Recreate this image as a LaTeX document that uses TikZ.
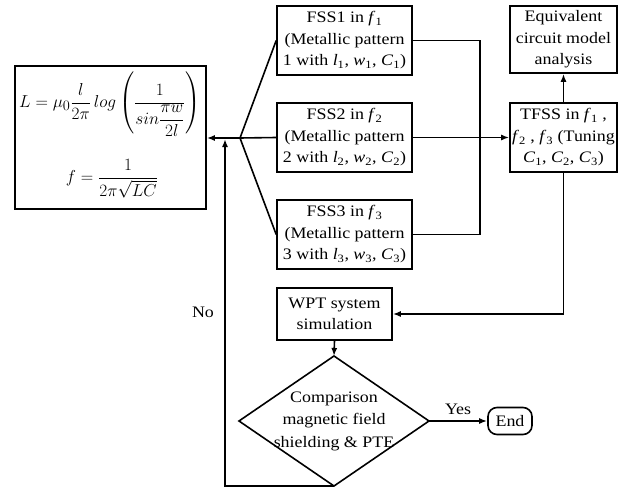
\documentclass[tikz,border=0pt]{standalone}
\usepackage{amsmath}
\usepackage{fontspec}
\setmainfont{Liberation Serif}[FakeStretch=1.12]
\usetikzlibrary{arrows.meta}
\newcommand{\vsub}[2]{\textit{#1}\textsubscript{#2}}
\tikzset{
  box/.style={draw, line width=1.6pt, inner sep=0pt, align=center,
    font=\fontsize{16}{21.5}\selectfont},
  txt/.style={inner sep=0pt, align=center, font=\fontsize{16}{22.5}\selectfont},
  conn/.style={line width=1.6pt},
  arr/.style={conn, -{Latex[length=8pt,width=6pt]}},
  lbl/.style={font=\fontsize{16}{18}\selectfont, inner sep=0pt},
  frm/.style={inner sep=0pt, font=\fontsize{19}{23}\selectfont}
}
\begin{document}
\begin{tikzpicture}[x=1pt,y=-1pt]
\useasboundingbox (0,0) rectangle (638,487);

% formula box with the inductance and resonance equations
\node[box, minimum width=191pt, minimum height=143pt] (form) at (110.5,137.5) {};
\node[frm] (eqL) at (110,104)
  {$\displaystyle L=\mu_0\frac{l}{2\pi}\,log\left(\frac{1}{sin\dfrac{\pi w}{2l}}\right)$};
\node[frm] (eqf) at (112,179)
  {$\displaystyle f=\frac{1}{2\pi\sqrt{LC}}$};

% the three FSS designs
\node[box, minimum width=135pt, minimum height=69pt] (fss1) at (344.5,40.5)
  {FSS1 in \vsub{f}{1}\\(Metallic pattern\\1 with \vsub{l}{1}, \vsub{w}{1}, \vsub{C}{1})};
\node[box, minimum width=135pt, minimum height=69pt] (fss2) at (344.5,137.5)
  {FSS2 in \vsub{f}{2}\\(Metallic pattern\\2 with \vsub{l}{2}, \vsub{w}{2}, \vsub{C}{2})};
\node[box, minimum width=135pt, minimum height=69pt] (fss3) at (344.5,234.5)
  {FSS3 in \vsub{f}{3}\\(Metallic pattern\\3 with \vsub{l}{3}, \vsub{w}{3}, \vsub{C}{3})};

% tunable FSS and circuit analysis
\node[box, minimum width=107pt, minimum height=69pt] (tfss) at (563.5,137.5)
  {TFSS in \vsub{f}{1} ,\\\vsub{f}{2} , \vsub{f}{3} (Tuning\\\vsub{C}{1}, \vsub{C}{2}, \vsub{C}{3})};
\node[box, minimum width=107pt, minimum height=67pt] (equiv) at (563.5,39.5)
  {Equivalent\\circuit model\\analysis};

% simulation
\node[box, minimum width=115pt, minimum height=52pt] (wpt) at (334.5,314)
  {WPT system\\simulation};

% decision diamond
\coordinate (dtop) at (334,356);
\coordinate (dright) at (429,421);
\coordinate (dbot) at (334,486);
\coordinate (dleft) at (239,421);
\draw[conn, line join=miter] (dtop) -- (dright) -- (dbot) -- (dleft) -- cycle;
\node[txt] (dia) at (334,421) {Comparison\\magnetic field\\shielding \& PTE};

\node[box, rounded corners=9pt, minimum width=44pt, minimum height=27pt] (end) at (510,421)
  {End};

% connectors
\coordinate (split) at (240,138);
\coordinate (join) at (480,138);
\coordinate (noup) at (225,139);
\draw[conn] (fss2.west) -- (split);
\draw[arr] (split) -- (form.east |- split);
\draw[conn] (split) -- (fss1.west);
\draw[conn] (split) -- (fss3.west);
\draw[conn] (fss1.east) -| (join) |- (fss3.east);
\draw[arr] (fss2.east) -- (tfss.west);
\draw[arr] (tfss.north) -- (equiv.south);
\draw[arr] (tfss.south) |- (wpt.east);
\draw[arr] (wpt.south) -- (dtop);
\draw[arr] (dright) -- (end.west) node[lbl, midway, above=6pt] {Yes};
\draw[arr] (dbot) -| (noup);
\node[lbl] (no) at (203,312) {No};
\end{tikzpicture}
\end{document}
